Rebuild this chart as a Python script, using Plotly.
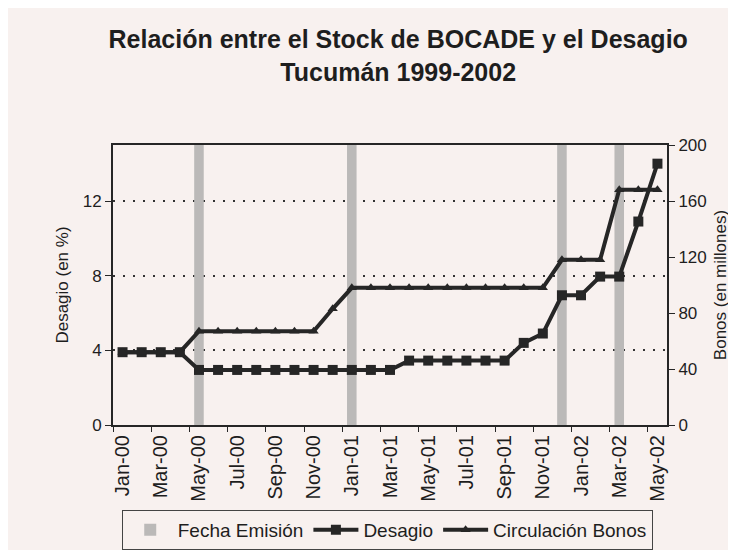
import plotly.graph_objects as go

# Monthly categories Jan-00 .. May-02
months = ["Jan-00", "Feb-00", "Mar-00", "Apr-00", "May-00", "Jun-00", "Jul-00", "Aug-00",
          "Sep-00", "Oct-00", "Nov-00", "Dec-00", "Jan-01", "Feb-01", "Mar-01", "Apr-01",
          "May-01", "Jun-01", "Jul-01", "Aug-01", "Sep-01", "Oct-01", "Nov-01", "Dec-01",
          "Jan-02", "Feb-02", "Mar-02", "Apr-02", "May-02"]

# Desagio (%) - left axis
desagio = [3.9, 3.9, 3.9, 3.9, 2.95, 2.95, 2.95, 2.95, 2.95, 2.95, 2.95, 2.95, 2.95, 2.95, 2.95,
           3.45, 3.45, 3.45, 3.45, 3.45, 3.45, 4.4, 4.9, 6.95, 6.95, 7.95, 7.95, 10.9, 14.0]

# Circulación Bonos (millones) - right axis
bonos = [52, 52, 52, 52, 67, 67, 67, 67, 67, 67, 67, 83, 98, 98, 98, 98, 98, 98, 98, 98,
         98, 98, 98, 118, 118, 118, 168, 168, 168]

# Fecha de emisión
emision = ["May-00", "Jan-01", "Dec-01", "Mar-02"]

x = list(range(len(months)))
x_emision = [months.index(m) for m in emision]
label_idx = x[::2]
labels = months[::2]

ink = "#262626"
paper = "#f8f1ef"
font = "Liberation Sans, Arial, sans-serif"

fig = go.Figure()

fig.add_trace(go.Bar(
    x=x_emision, y=[15] * len(x_emision),
    width=0.5, marker=dict(color="#bbb9b8", line=dict(width=0)),
    name="Fecha Emisión", legendrank=1, yaxis="y",
))

fig.add_trace(go.Scatter(
    x=x, y=bonos, mode="lines+markers", name="Circulación Bonos", legendrank=3,
    line=dict(color=ink, width=4),
    marker=dict(symbol="triangle-up", size=9, color=ink),
    yaxis="y2",
))

fig.add_trace(go.Scatter(
    x=x, y=desagio, mode="lines+markers", name="Desagio", legendrank=2,
    line=dict(color=ink, width=4),
    marker=dict(symbol="square", size=10, color=ink),
    yaxis="y",
))

# page has an 8px body margin, so the figure is a bit smaller than the window
fig.update_layout(
    width=728, height=542,
    margin=dict(l=105, r=69, t=137, b=125, autoexpand=False),
    paper_bgcolor=paper, plot_bgcolor=paper,
    font=dict(family=font, color="#1e1e1e", size=17),
    title=dict(
        text="Relación entre el Stock de BOCADE y el Desagio<br>Tucumán 1999-2002",
        x=0.536, xanchor="center", y=0.926, yanchor="top",
        font=dict(size=25, family=font, weight="bold"),
    ),
    barmode="overlay",
    showlegend=True,
    legend=dict(
        orientation="h", x=0.495, xanchor="center", y=-0.375, yanchor="middle",
        bordercolor="#444444", borderwidth=1, bgcolor=paper,
        font=dict(size=19), traceorder="normal", itemwidth=45,
    ),
    xaxis=dict(
        range=[-0.5, len(months) - 0.5],
        tickvals=label_idx, ticktext=labels, tickangle=-90,
        ticks="", showgrid=False, zeroline=False,
        showline=True, linecolor=ink, linewidth=2, mirror=True,
        minor=dict(ticks="outside", tick0=-0.5, dtick=2, ticklen=5, tickcolor=ink, showgrid=False),
        tickfont=dict(size=20),
    ),
    yaxis=dict(
        range=[0, 15], tickvals=[0, 4, 8, 12],
        ticks="outside", ticklen=6, tickcolor=ink,
        showline=True, linecolor=ink, linewidth=2,
        showgrid=True, gridcolor="#333333", griddash="2px,8px", gridwidth=1.5,
        zeroline=False,
        title=dict(text="Desagio (en %)", font=dict(size=17), standoff=10),
    ),
    yaxis2=dict(
        range=[0, 200], tickvals=[0, 40, 80, 120, 160, 200],
        overlaying="y", side="right",
        ticks="outside", ticklen=6, tickcolor=ink,
        showline=True, linecolor=ink, linewidth=2,
        showgrid=False, zeroline=False,
        title=dict(text="Bonos (en millones)", font=dict(size=17), standoff=8),
    ),
)

fig.write_html("out.html")
